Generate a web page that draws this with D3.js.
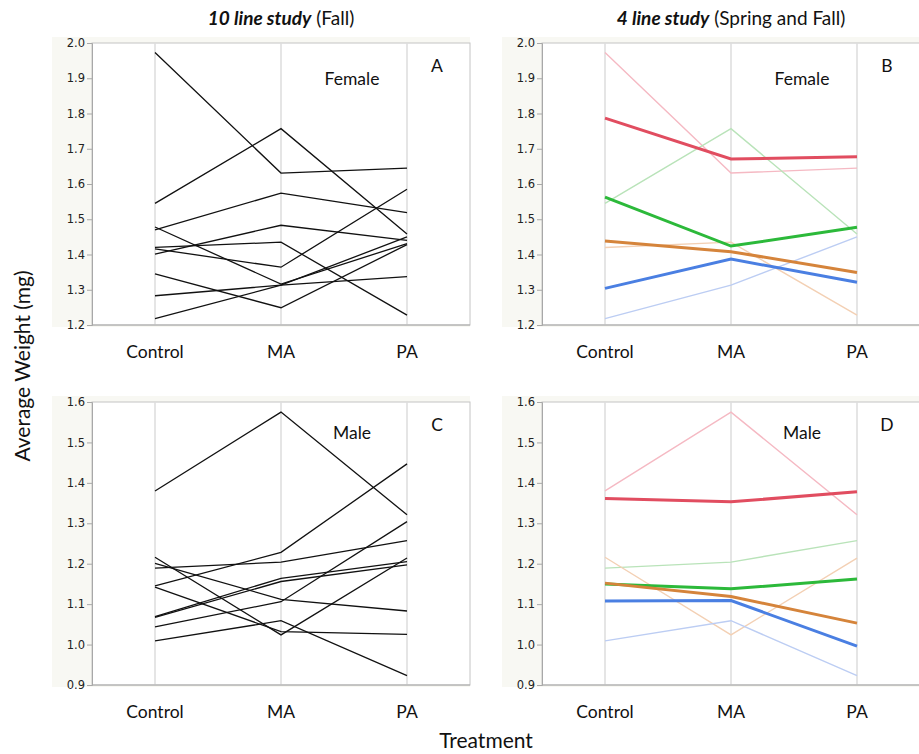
<!DOCTYPE html>
<html>
<head>
<meta charset="utf-8">
<script src="https://cdn.jsdelivr.net/npm/d3@7"></script>
<style>
  body { margin: 0; background: #fff; }
  text { font-family: Lato, "Open Sans", sans-serif; fill: #111; }
  .tick text { font-family: "DejaVu Sans", sans-serif; font-size: 11.5px; fill: #222; }
</style>
</head>
<body>
<svg id="chart" width="919" height="754"></svg>
<script>
// data ---------------------------------------------------------------
const treatments = ["Control", "MA", "PA"];

// 10 line study, one row per line (Control, MA, PA); first 4 rows are the lines of the 4 line study
const female10 = [
  [1.973, 1.631, 1.645],
  [1.545, 1.757, 1.458],
  [1.420, 1.435, 1.228],
  [1.218, 1.313, 1.450],
  [1.470, 1.574, 1.519],
  [1.401, 1.483, 1.440],
  [1.416, 1.364, 1.585],
  [1.478, 1.316, 1.431],
  [1.345, 1.249, 1.428],
  [1.283, 1.313, 1.337]
];
const male10 = [
  [1.380, 1.575, 1.321],
  [1.189, 1.204, 1.257],
  [1.216, 1.024, 1.214],
  [1.009, 1.059, 0.923],
  [1.145, 1.228, 1.447],
  [1.201, 1.112, 1.083],
  [1.142, 1.032, 1.025],
  [1.069, 1.164, 1.205],
  [1.067, 1.156, 1.197],
  [1.044, 1.106, 1.304]
];

// 4 line study (Spring and Fall) means
const female4 = [
  [1.787, 1.671, 1.677],
  [1.563, 1.424, 1.477],
  [1.438, 1.408, 1.349],
  [1.304, 1.387, 1.321]
];
const male4 = [
  [1.361, 1.353, 1.378],
  [1.150, 1.138, 1.162],
  [1.152, 1.119, 1.053],
  [1.108, 1.109, 0.996]
];

const lineColors  = ["#e14d60", "#2cb93a", "#d5843b", "#4a7fe2"];
const lightColors = ["#f5b9c3", "#b9e3b9", "#f3d0b4", "#bccdf3"];

const femaleTicks = [1.2, 1.3, 1.4, 1.5, 1.6, 1.7, 1.8, 1.9, 2.0];
const maleTicks   = [0.9, 1.0, 1.1, 1.2, 1.3, 1.4, 1.5, 1.6];

// layout -------------------------------------------------------------
const svg = d3.select("#chart");
const plotW = 378;
const cols = [92, 542];
const rows = [{ y0: 43, h: 282 }, { y0: 402, h: 283 }];

function panel(px, row, domain, ticks, sexLabel, letter, blackLines, thinLines, meanLines) {
  const x = d3.scalePoint().domain(treatments).range([px, px + plotW]).padding(0.5);
  const y = d3.scaleLinear().domain(domain).range([row.y0 + row.h, row.y0]);

  // beige panel background + white plot area
  svg.append("rect")
    .attr("x", px - 40).attr("y", row.y0 - 6)
    .attr("width", plotW + 40).attr("height", row.h + 8)
    .attr("fill", "#f8f8f3");
  svg.append("rect")
    .attr("x", px).attr("y", row.y0)
    .attr("width", plotW).attr("height", row.h)
    .attr("fill", "#fff")
    .attr("stroke", "#c4c4c4").attr("stroke-width", 1);

  // vertical grid at each treatment
  svg.append("g").selectAll("line")
    .data(treatments).join("line")
    .attr("x1", d => x(d)).attr("x2", d => x(d))
    .attr("y1", row.y0).attr("y2", row.y0 + row.h)
    .attr("stroke", "#dcdcdc").attr("stroke-width", 1.5);

  // y axis
  const ax = svg.append("g")
    .attr("transform", `translate(${px},0)`)
    .call(d3.axisLeft(y).tickValues(ticks).tickFormat(d3.format(".1f")).tickSize(5).tickPadding(2));
  ax.select(".domain").attr("stroke", "#a8a8a8");
  ax.selectAll(".tick line").attr("stroke", "#a8a8a8");

  // bottom axis line
  svg.append("line")
    .attr("x1", px).attr("x2", px + plotW)
    .attr("y1", row.y0 + row.h).attr("y2", row.y0 + row.h)
    .attr("stroke", "#a8a8a8");

  const line = d3.line().x((d, i) => x(treatments[i])).y(d => y(d));

  if (blackLines) {
    svg.append("g").selectAll("path")
      .data(blackLines).join("path")
      .attr("d", line)
      .attr("fill", "none").attr("stroke", "#111").attr("stroke-width", 1.3);
  }
  if (thinLines) {
    svg.append("g").selectAll("path")
      .data(thinLines).join("path")
      .attr("d", line)
      .attr("fill", "none")
      .attr("stroke", (d, i) => lightColors[i]).attr("stroke-width", 1.4);
  }
  if (meanLines) {
    svg.append("g").selectAll("path")
      .data(meanLines).join("path")
      .attr("d", line)
      .attr("fill", "none")
      .attr("stroke", (d, i) => lineColors[i]).attr("stroke-width", 3);
  }

  // treatment labels
  svg.append("g").selectAll("text")
    .data(treatments).join("text")
    .attr("x", d => x(d)).attr("y", row.y0 + row.h + 33)
    .attr("text-anchor", "middle")
    .style("font-size", "17.5px")
    .text(d => d);

  svg.append("text")
    .attr("x", px + 260).attr("y", row.y0 + (row.y0 < 100 ? 42 : 37))
    .attr("text-anchor", "middle")
    .style("font-size", "17.5px")
    .text(sexLabel);
  svg.append("text")
    .attr("x", px + 345).attr("y", row.y0 + 29)
    .attr("text-anchor", "middle")
    .style("font-size", "17.5px")
    .text(letter);
}

panel(cols[0], rows[0], [1.2, 2.0], femaleTicks, "Female", "A", female10, null, null);
panel(cols[1], rows[0], [1.2, 2.0], femaleTicks, "Female", "B", null, female10.slice(0, 4), female4);
panel(cols[0], rows[1], [0.9, 1.6], maleTicks, "Male", "C", male10, null, null);
panel(cols[1], rows[1], [0.9, 1.6], maleTicks, "Male", "D", null, male10.slice(0, 4), male4);

// titles
const t1 = svg.append("text").attr("x", 281).attr("y", 25)
  .attr("text-anchor", "middle").style("font-size", "19px");
t1.append("tspan").style("font-weight", "bold").style("font-style", "italic").text("10 line study");
t1.append("tspan").text(" (Fall)");

const t2 = svg.append("text").attr("x", 731).attr("y", 25)
  .attr("text-anchor", "middle").style("font-size", "19px");
t2.append("tspan").style("font-weight", "bold").style("font-style", "italic").text("4 line study");
t2.append("tspan").text(" (Spring and Fall)");

// axis titles
svg.append("text")
  .attr("transform", "translate(30,366) rotate(-90)")
  .attr("text-anchor", "middle")
  .style("font-size", "21px")
  .text("Average Weight (mg)");

svg.append("text")
  .attr("x", 486).attr("y", 748)
  .attr("text-anchor", "middle")
  .style("font-size", "21px")
  .text("Treatment");
</script>
</body>
</html>
